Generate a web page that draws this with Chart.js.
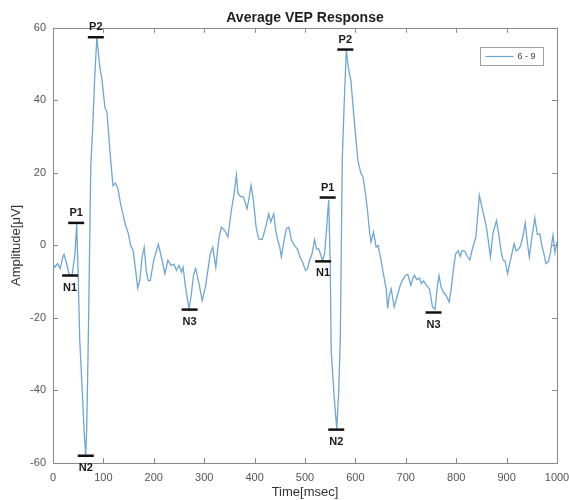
<!DOCTYPE html>
<html>
<head>
<meta charset="utf-8">
<script src="https://cdn.jsdelivr.net/npm/chart.js@4.4.1/dist/chart.umd.min.js"></script>
<style>
  html, body { margin: 0; padding: 0; background: #ffffff; }
  #wrap { width: 569px; height: 500px; }
</style>
</head>
<body>
<div id="wrap"><canvas id="vep" width="569" height="500"></canvas></div>
<script>
// Averaged VEP trace (time in msec, amplitude in microvolts)
const times = [
  0, 4, 9, 14, 20, 22, 27, 32, 38, 42, 44, 47, 50, 53, 58, 62, 65, 67, 70, 75,
  78, 83, 87, 93, 97, 103, 107, 113, 117, 119, 124, 129, 134, 139, 144, 149, 154, 159, 164, 168,
  172, 177, 181, 185, 189, 193, 200, 209, 215, 222, 228, 234, 240, 245, 250, 255, 258, 263, 267, 270,
  274, 279, 283, 289, 296, 303, 312, 317, 323, 329, 334, 341, 347, 354, 359, 364, 367, 372, 378, 385,
  389, 393, 398, 403, 408, 415, 422, 428, 432, 438, 442, 446, 450, 453, 458, 463, 468, 473, 479, 485,
  490, 495, 501, 505, 509, 514, 519, 523, 527, 531, 535, 539, 543, 547, 550, 552, 558, 563, 567, 570,
  574, 578, 582, 586, 591, 598, 605, 611, 615, 620, 624, 628, 631, 636, 641, 645, 651, 655, 661, 664,
  667, 671, 677, 682, 689, 694, 699, 704, 710, 714, 717, 722, 727, 731, 735, 741, 747, 753, 758, 762,
  766, 770, 775, 780, 786, 790, 795, 799, 804, 808, 812, 817, 822, 827, 832, 839, 846, 851, 856, 860,
  864, 868, 873, 880, 885, 889, 893, 897, 902, 906, 911, 915, 919, 924, 928, 933, 937, 941, 945, 950,
  956, 961, 966, 970, 974, 978, 983, 987, 992, 996, 1000
];
const amplitudes = [
  -5, -6, -5, -6.4, -3, -2.5, -5, -8, -8.2, -4, -1.4, 5.8, -8, -26, -40, -52, -58, -50, -26, 22,
  30, 47, 57.4, 49, 46, 38, 36.7, 26, 19.5, 16.5, 17.2, 15.6, 11.5, 8.5, 5.5, 3.5, 0, -1.4, -6.9, -11.8,
  -9.8, -3, -0.5, -7, -9.7, -9.7, -4, 0.3, -3.2, -7.8, -4.1, -5.5, -5.2, -6.9, -5.5, -7.4, -6, -11.5, -15, -17.4,
  -14, -8, -6.4, -10, -15.2, -11, -2.3, -0.5, -6, 1.8, 5, 4.1, 2.3, 9.7, 14, 19.4, 14.3, 13.5, 13.3, 10.1,
  13, 16.6, 12, 5, 1.8, 1.6, 5, 8.7, 6.5, 8.7, 4, 1.4, -0.5, -3.2, 1, 4.6, 5, 1.5, 0, -1,
  -3.2, -4.5, -6.9, -6.5, -4.1, -2.3, 1.6, -1, -0.9, -2.5, -4.2, -2, 5, 12.6, -5, -29, -42, -50.6, -40, -26,
  24, 40, 53.8, 49, 45.5, 34, 23.4, 19.8, 19, 14.3, 9.7, 3.7, 0.9, 3.7, -0.5, 0, -4.1, -7.4, -12, -17.4,
  -14, -12, -17, -14.5, -11, -9.5, -8.3, -8, -11, -9, -8.2, -9.5, -9, -10.5, -9.8, -11, -12, -17, -17.6, -12,
  -8.3, -11.5, -13, -13.8, -15.6, -12, -6, -2.3, -1.5, -3, -1.4, -1.6, -3, -4, -1, 2.3, 13.8, 10.5, 7.5, 5,
  1, -3.2, 3.5, 6.8, 2.5, -1.5, -4.1, -4.3, -7.8, -5, -2, 0.5, -1.5, -1, 0, 3, 6.2, 1, -3.2, 2,
  7.6, 3, 3.2, 0, -2.3, -5, -4.5, -2, 2.8, -2, 1
];

// Marked components of the two responses
const peakNames = ['N1', 'P1', 'N2', 'P2', 'N3', 'N1', 'P1', 'N2', 'P2', 'N3'];
const peakTimes = [34, 46, 65, 85, 271, 536, 545, 562, 580, 755];
const peakAmps  = [-8.3, 6.2, -58, 57.4, -17.7, -4.4, 13.2, -50.8, 54, -18.5];

const xTicks = [0, 100, 200, 300, 400, 500, 600, 700, 800, 900, 1000];
const yTicks = [-60, -40, -20, 0, 20, 40, 60];
const seriesLabel = '6 - 9';

const LINE_COLOR = '#6ea6d6';
const AXIS_COLOR = '#8a8a8a';
const FONT = "'Liberation Sans', Arial, sans-serif";

// Boxed axes with inward ticks, in the style of a MATLAB figure
const boxAxes = {
  id: 'boxAxes',
  beforeDatasetsDraw(chart) {
    const { ctx, chartArea: a, scales: { x, y } } = chart;
    ctx.save();
    ctx.strokeStyle = AXIS_COLOR;
    ctx.lineWidth = 1;
    ctx.strokeRect(Math.round(a.left) + 0.5, Math.round(a.top) + 0.5,
                   Math.round(a.right - a.left), Math.round(a.bottom - a.top));
    const len = 5;
    ctx.beginPath();
    xTicks.forEach(v => {
      const px = Math.round(x.getPixelForValue(v)) + 0.5;
      ctx.moveTo(px, a.bottom); ctx.lineTo(px, a.bottom - len);
      ctx.moveTo(px, a.top); ctx.lineTo(px, a.top + len);
    });
    yTicks.forEach(v => {
      const py = Math.round(y.getPixelForValue(v)) + 0.5;
      ctx.moveTo(a.left, py); ctx.lineTo(a.left + len, py);
      ctx.moveTo(a.right, py); ctx.lineTo(a.right - len, py);
    });
    ctx.stroke();
    ctx.restore();
  }
};

// Short black bars with component names at each marked peak
const peakMarks = {
  id: 'peakMarks',
  afterDatasetsDraw(chart) {
    const { ctx, scales: { x, y } } = chart;
    ctx.save();
    ctx.strokeStyle = '#111111';
    ctx.lineWidth = 2.5;
    ctx.fillStyle = '#1a1a1a';
    ctx.font = "bold 11px " + FONT;
    ctx.textAlign = 'center';
    ctx.textBaseline = 'middle';
    peakNames.forEach((name, i) => {
      const px = x.getPixelForValue(peakTimes[i]);
      const py = y.getPixelForValue(peakAmps[i]);
      ctx.beginPath();
      ctx.moveTo(px - 8, py); ctx.lineTo(px + 8, py);
      ctx.stroke();
      const above = name.startsWith('P');
      ctx.fillText(name, px, above ? py - 10 : py + 12);
    });
    ctx.restore();
  }
};

// Boxed legend in the upper-right corner of the axes
const cornerLegend = {
  id: 'cornerLegend',
  afterDraw(chart) {
    const { ctx, chartArea: a } = chart;
    const ds = chart.data.datasets[0];
    const w = 63, h = 18;
    const lx = Math.round(a.right - 14 - w) + 0.5, ly = Math.round(a.top + 19) + 0.5;
    ctx.save();
    ctx.fillStyle = '#ffffff';
    ctx.fillRect(lx, ly, w, h);
    ctx.strokeStyle = '#a0a0a0';
    ctx.lineWidth = 1;
    ctx.strokeRect(lx, ly, w, h);
    ctx.strokeStyle = ds.borderColor;
    ctx.lineWidth = 1.2;
    ctx.beginPath();
    ctx.moveTo(lx + 5, ly + h / 2); ctx.lineTo(lx + 33, ly + h / 2);
    ctx.stroke();
    ctx.fillStyle = '#444444';
    ctx.font = "9px " + FONT;
    ctx.textAlign = 'left';
    ctx.textBaseline = 'middle';
    ctx.fillText(ds.label, lx + 37, ly + h / 2 + 0.5);
    ctx.restore();
  }
};

new Chart(document.getElementById('vep'), {
  type: 'line',
  data: {
    datasets: [{
      label: seriesLabel,
      data: times.map((t, i) => ({ x: t, y: amplitudes[i] })),
      borderColor: LINE_COLOR,
      borderWidth: 1.3,
      pointRadius: 0,
      tension: 0,
      fill: false
    }]
  },
  options: {
    responsive: false,
    animation: false,
    layout: { padding: { left: 0, right: 12, top: 0, bottom: 0 } },
    plugins: {
      legend: { display: false },
      tooltip: { enabled: false },
      title: {
        display: true,
        text: 'Average VEP Response',
        fullSize: false,
        color: '#1e1e1e',
        font: { family: FONT, size: 14, weight: 'bold' },
        padding: { top: 10, bottom: 1 }
      }
    },
    scales: {
      x: {
        type: 'linear',
        min: 0,
        max: 1000,
        afterBuildTicks(scale) { scale.ticks = xTicks.map(v => ({ value: v })); },
        afterFit(scale) {
          scale.height = 37;
          scale.paddingLeft = 0;
          scale.paddingRight = 0;
        },
        grid: { display: false, drawTicks: false },
        border: { display: false },
        ticks: {
          padding: 8,
          color: '#555555',
          font: { family: FONT, size: 11 },
          callback: v => String(v)
        },
        title: {
          display: true,
          text: 'Time[msec]',
          color: '#333333',
          font: { family: FONT, size: 13 },
          padding: { top: 0, bottom: 0 }
        }
      },
      y: {
        type: 'linear',
        min: -60,
        max: 60,
        afterBuildTicks(scale) { scale.ticks = yTicks.map(v => ({ value: v })); },
        afterFit(scale) {
          scale.width = 53;
          scale.paddingTop = 0;
          scale.paddingBottom = 0;
        },
        grid: { display: false, drawTicks: false },
        border: { display: false },
        ticks: {
          padding: 7,
          color: '#555555',
          font: { family: FONT, size: 11 },
          callback: v => String(v)
        },
        title: {
          display: true,
          text: 'Amplitude[μV]',
          color: '#333333',
          font: { family: FONT, size: 13 },
          padding: { top: 9, bottom: 0 }
        }
      }
    }
  },
  plugins: [boxAxes, peakMarks, cornerLegend]
});
</script>
</body>
</html>
